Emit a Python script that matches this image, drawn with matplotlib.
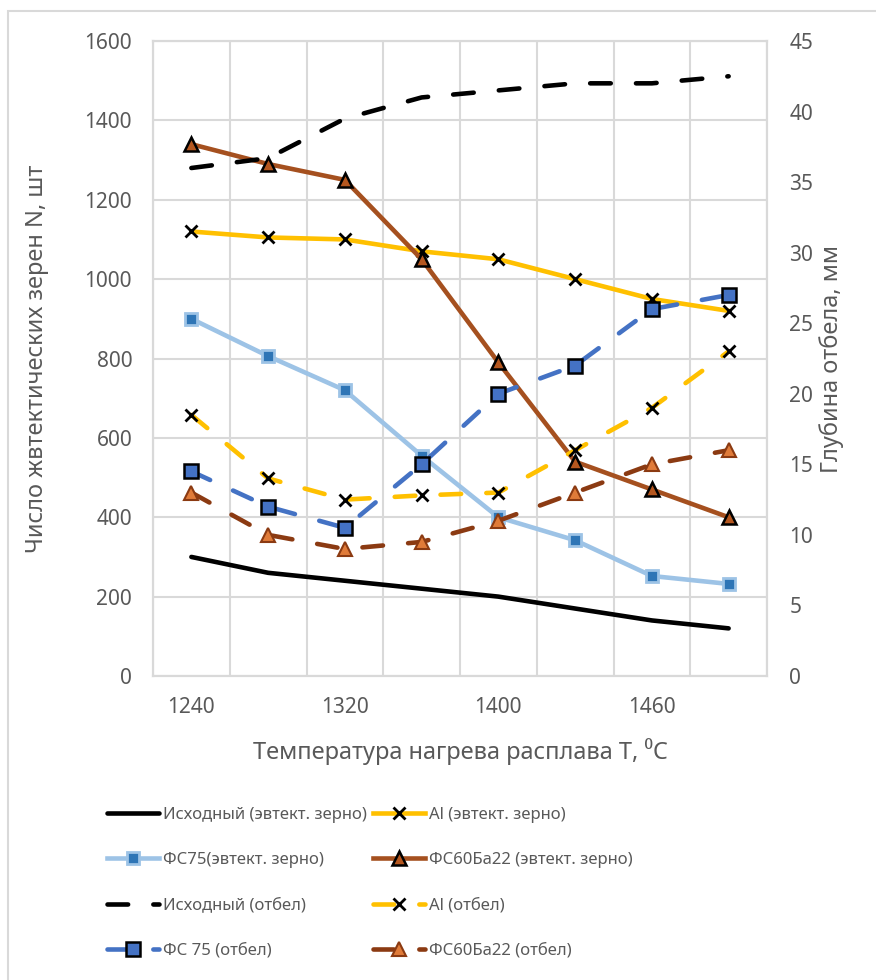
import matplotlib
matplotlib.use("Agg")
import matplotlib.pyplot as plt
from matplotlib.patches import Rectangle
from matplotlib.ticker import FixedLocator

plt.rcParams['font.family'] = ['Noto Sans', 'DejaVu Sans']

# температура нагрева (подписаны только 1240, 1320, 1400, 1460)
temps = [1240, 1280, 1320, 1360, 1400, 1430, 1460, 1490]
shown = [1240, 1320, 1400, 1460]

# число эвтектических зерен, левая ось
ish_grain = [300, 260, 240, 220, 200, 170, 140, 120]
al_grain = [1120, 1105, 1100, 1070, 1050, 1000, 950, 920]
fs75_grain = [900, 806, 720, 555, 400, 342, 252, 232]
fs60_grain = [1340, 1290, 1250, 1050, 790, 540, 470, 400]

# глубина отбела, правая ось
ish_chill = [36.0, 36.7, 39.5, 41.0, 41.5, 42.0, 42.0, 42.5]
al_chill = [18.5, 14.0, 12.5, 12.8, 13.0, 16.0, 19.0, 23.0]
fs75_chill = [14.5, 12.0, 10.5, 15.0, 20.0, 22.0, 26.0, 27.0]
fs60_chill = [13.0, 10.0, 9.0, 9.5, 11.0, 13.0, 15.0, 16.0]

GRID = '#D9D9D9'
TXT = '#595959'
LW = 3.3
DASH = (4.5, 5.5)

fig = plt.figure(figsize=(8.76, 9.8), dpi=100)
fig.patches.append(Rectangle((8 / 876, -0.05), 1.2, 1.05 - 11 / 980, transform=fig.transFigure,
                             fill=False, edgecolor=GRID, lw=1.5))

ax = fig.add_axes([153 / 876, 1 - 676 / 980, 614 / 876, 635 / 980])
ax2 = ax.twinx()

x = list(range(len(temps)))

h1, = ax.plot(x, ish_grain, color='black', lw=LW, solid_capstyle='round',
              label='Исходный (эвтект. зерно)')
h3, = ax.plot(x, fs75_grain, color='#9DC3E6', lw=LW, marker='s', ms=9, mfc='#2E75B6',
              mec='#9DC3E6', mew=2, label='ФС75(эвтект. зерно)')
h2, = ax.plot(x, al_grain, color='#FFC000', lw=LW, marker='x', ms=8.5, mec='black',
              mew=2, label='Al (эвтект. зерно)')
h4, = ax.plot(x, fs60_grain, color='#A5501F', lw=LW, marker='^', ms=10, mfc='#B5571F',
              mec='black', mew=1.8, label='ФС60Ба22 (эвтект. зерно)')

h5, = ax2.plot(x, ish_chill, color='black', lw=LW, dashes=DASH, dash_capstyle='round',
               label='Исходный (отбел)')
h6, = ax2.plot(x, al_chill, color='#FFC000', lw=LW, dashes=DASH, dash_capstyle='round',
               marker='x', ms=8.5, mec='black', mew=2, label='Al (отбел)')
h7, = ax2.plot(x, fs75_chill, color='#4472C4', lw=LW, dashes=DASH, dash_capstyle='round',
               marker='s', ms=10, mfc='#4472C4', mec='black', mew=1.8, label='ФС 75 (отбел)')
h8, = ax2.plot(x, fs60_chill, color='#8B3A12', lw=LW, dashes=DASH, dash_capstyle='round',
               marker='^', ms=10, mfc='#E07B39', mec='#8B3A12', mew=1.5,
               label='ФС60Ба22 (отбел)')

ax.set_xlim(-0.5, len(temps) - 0.5)
ax.set_ylim(0, 1600)
ax.set_yticks(range(0, 1601, 200))
ax2.set_ylim(0, 45)
ax2.set_yticks(range(0, 46, 5))

ax.set_xticks(x)
ax.set_xticklabels([str(t) if t in shown else '' for t in temps])
ax.xaxis.set_minor_locator(FixedLocator([i - 0.5 for i in range(len(temps) + 1)]))
ax.grid(True, which='minor', axis='x', color=GRID, lw=1.5)
ax.grid(True, which='major', axis='y', color=GRID, lw=1.5)
ax.set_axisbelow(True)

for a in (ax, ax2):
    for s in a.spines.values():
        s.set_color(GRID)
        s.set_linewidth(1.5)
    a.tick_params(which='both', length=0, labelsize=15, labelcolor=TXT)
ax.tick_params(axis='y', pad=15)
ax.tick_params(axis='x', pad=15)
ax2.tick_params(axis='y', pad=16)

ax.set_ylabel('Число жвтектических зерен N, шт', fontsize=17, color=TXT)
ax.yaxis.set_label_coords(-0.17, 0.5)
ax2.set_ylabel('Глубина отбела, мм', fontsize=17, color=TXT)
ax2.yaxis.set_label_coords(1.085, 0.5)
ax.set_xlabel('Температура нагрева расплава T, \u2070C', fontsize=17, color=TXT)
ax.xaxis.set_label_coords(0.5, -0.097)

handles = [h1, h3, h5, h7, h2, h4, h6, h8]
fig.legend(handles=handles, labels=[h.get_label() for h in handles], ncol=2,
           loc='upper left', bbox_to_anchor=(92 / 876, 1 - 792 / 980), frameon=False,
           fontsize=12, labelcolor=TXT, handlelength=3.1, handletextpad=0.25,
           columnspacing=0.4, labelspacing=1.75)

fig.savefig('out.png', dpi=100)
